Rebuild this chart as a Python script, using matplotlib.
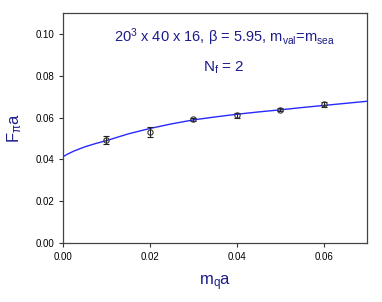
import numpy as np
import matplotlib
matplotlib.use("Agg")
import matplotlib.pyplot as plt

plt.rcParams['font.family'] = ['Liberation Sans', 'DejaVu Sans']
plt.rcParams['mathtext.fontset'] = 'custom'
plt.rcParams['mathtext.rm'] = 'Liberation Sans'
plt.rcParams['mathtext.it'] = 'Liberation Sans'

navy = "#1c1c8a"

# data points
mq = [0.01, 0.02, 0.03, 0.04, 0.05, 0.06]
fpi = [0.0495, 0.0530, 0.0592, 0.0612, 0.0637, 0.0663]
fpi_err = [0.0019, 0.0024, 0.0008, 0.0012, 0.0007, 0.0010]

# fit curve
fit_x = [0.0, 0.001, 0.0025, 0.005, 0.0075, 0.01, 0.015, 0.02, 0.025, 0.03,
         0.035, 0.04, 0.045, 0.05, 0.055, 0.06, 0.065, 0.07]
fit_y = [0.0413, 0.0425, 0.0440, 0.0460, 0.0476, 0.0490, 0.0522, 0.0548, 0.0570,
         0.0589, 0.0603, 0.0616, 0.0627, 0.0637, 0.0648, 0.0658, 0.0668, 0.0678]

fig = plt.figure(figsize=(3.82, 3.02), dpi=100)
ax = fig.add_axes([0.165, 0.195, 0.796, 0.762])

ax.plot(fit_x, fit_y, color="#2828ff", lw=1.0)
ax.errorbar(mq, fpi, yerr=fpi_err, fmt='o', ms=3.8, mfc='none', mec='#333333',
            ecolor='#222222', elinewidth=0.8, capsize=2, capthick=0.8, mew=0.8)

ax.set_xlim(0, 0.07)
ax.set_ylim(0, 0.11)
ax.set_xticks([0.0, 0.02, 0.04, 0.06])
ax.set_yticks([0.0, 0.02, 0.04, 0.06, 0.08, 0.10])
ax.xaxis.set_major_formatter(matplotlib.ticker.FormatStrFormatter('%.2f'))
ax.yaxis.set_major_formatter(matplotlib.ticker.FormatStrFormatter('%.2f'))
ax.tick_params(labelsize=7, length=3, width=0.8, color='#333333', direction='out')
for s in ax.spines.values():
    s.set_color('#444444')
    s.set_linewidth(0.9)

ax.set_xlabel(r'm$_\mathregular{q}$a', color=navy, fontsize=12, labelpad=8)
ax.set_ylabel(r'F$_\mathregular{\pi}$a', color=navy, fontsize=12, labelpad=8)

ax.text(0.53, 0.895, r'20$^\mathregular{3}$ x 40 x 16, $\beta$ = 5.95, m$_\mathregular{val}$=m$_\mathregular{sea}$',
        transform=ax.transAxes, ha='center', va='center', color=navy, fontsize=10.5)
ax.text(0.53, 0.76, r'N$_\mathregular{f}$ = 2', transform=ax.transAxes,
        ha='center', va='center', color=navy, fontsize=11)

fig.savefig("out.png", dpi=100)
